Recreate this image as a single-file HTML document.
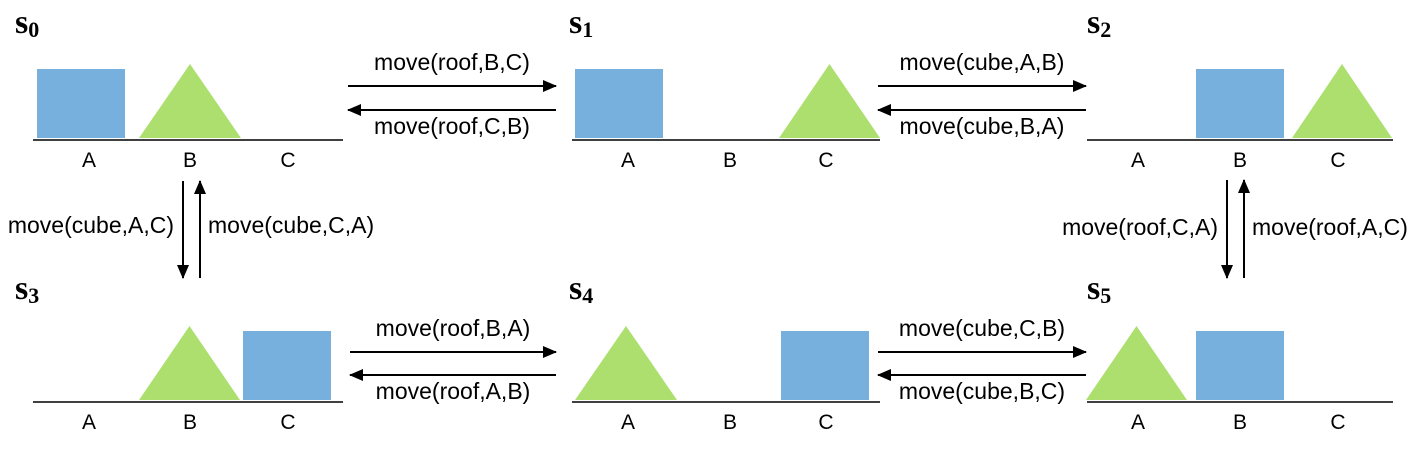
<!DOCTYPE html>
<html><head><meta charset="utf-8"><style>
html,body{margin:0;padding:0;background:#fff;}
svg text{font-family:"Liberation Sans",sans-serif;}
.lab{font-size:23px;fill:#000;}
.abc{font-size:21px;fill:#000;text-anchor:middle;}
svg text.st{font-family:"Liberation Serif",serif;font-size:34px;font-weight:bold;}
</style></head><body>
<svg width="1424" height="444" viewBox="0 0 1424 444" xmlns="http://www.w3.org/2000/svg">
<defs><marker id="ah" markerWidth="14" markerHeight="12" refX="13" refY="6" orient="auto" markerUnits="userSpaceOnUse"><path d="M0,0 L14,6 L0,12 z" fill="#000"/></marker></defs>
<g id="states"></g>
<g id="arrows"></g>
</svg>
<script>
const NS='http://www.w3.org/2000/svg';
const svg=document.querySelector('svg');
const stG=document.getElementById('states');
const arG=document.getElementById('arrows');
function mk(t,a,p){const e=document.createElementNS(NS,t);for(const k in a)e.setAttribute(k,a[k]);(p||svg).appendChild(e);return e;}
const states=[
 {n:'0',lx:15,ly:33,x0:33,x1:343,gy:140,cx:[89,190,288],cube:[37,125],roof:[139,241]},
 {n:'1',lx:569,ly:33,x0:572,x1:880,gy:140,cx:[628,730,826],cube:[575,663],roof:[779,880]},
 {n:'2',lx:1087,ly:33,x0:1087,x1:1393,gy:140,cx:[1138,1240,1338],cube:[1196,1284],roof:[1292,1392]},
 {n:'3',lx:15,ly:299,x0:33,x1:343,gy:402,cx:[89,190,288],cube:[243,331],roof:[139,240]},
 {n:'4',lx:569,ly:299,x0:572,x1:880,gy:402,cx:[628,730,826],cube:[781,869],roof:[575,677]},
 {n:'5',lx:1087,ly:299,x0:1087,x1:1393,gy:402,cx:[1138,1240,1338],cube:[1196,1284],roof:[1086,1187]}
];
states.forEach(s=>{
 const g=mk('g',{},stG);
 
 
 const t=mk('text',{x:s.lx,y:s.ly,class:'st'},g);
 t.innerHTML='s<tspan style="font-size:22px" dy="4">'+s.n+'</tspan>';
 
 
 const c=mk('rect',{x:s.cube[0],y:s.gy-71,width:s.cube[1]-s.cube[0],height:69,fill:'#77b0dc'},g);
 
 
 const m=(s.roof[0]+s.roof[1])/2;
 const r=mk('polygon',{points:`${s.roof[0]},${s.gy-2} ${m},${s.gy-76} ${s.roof[1]},${s.gy-2}`,fill:'#acdf6e'},g);
 
 
 const l=mk('line',{x1:s.x0,y1:s.gy,x2:s.x1,y2:s.gy,stroke:'#000','stroke-width':1.5},g);
 
 
 ['A','B','C'].forEach((p,i)=>{
  const tt=mk('text',{x:s.cx[i],y:s.gy+27,class:'abc'},g);tt.textContent=p;
  
  
 });
});
const hpairs=[
 {x0:348,x1:556,y:86,y2:110,top:'move(roof,B,C)',bot:'move(roof,C,B)'},
 {x0:878,x1:1086,y:86,y2:110,top:'move(cube,A,B)',bot:'move(cube,B,A)'},
 {x0:350,x1:556,y:352,y2:375,top:'move(roof,B,A)',bot:'move(roof,A,B)'},
 {x0:878,x1:1086,y:352,y2:375,top:'move(cube,C,B)',bot:'move(cube,B,C)'}
];
hpairs.forEach(h=>{
 const cx=(h.x0+h.x1)/2;
 let a=mk('line',{x1:h.x0,y1:h.y,x2:h.x1,y2:h.y,stroke:'#000','stroke-width':2,'marker-end':'url(#ah)'},arG);
 
 a=mk('line',{x1:h.x1,y1:h.y2,x2:h.x0,y2:h.y2,stroke:'#000','stroke-width':2,'marker-end':'url(#ah)'},arG);
 
 let t=mk('text',{x:cx,y:h.y-16,class:'lab','text-anchor':'middle'},arG);t.textContent=h.top;
 
 t=mk('text',{x:cx,y:h.y2+24,class:'lab','text-anchor':'middle'},arG);t.textContent=h.bot;
 
});
const vpairs=[
 {xd:183,xu:200,y0:181,y1:278,left:'move(cube,A,C)',right:'move(cube,C,A)',ly:233},
 {xd:1227,xu:1244,y0:180,y1:278,left:'move(roof,C,A)',right:'move(roof,A,C)',ly:235}
];
vpairs.forEach(v=>{
 let a=mk('line',{x1:v.xd,y1:v.y0,x2:v.xd,y2:v.y1,stroke:'#000','stroke-width':2,'marker-end':'url(#ah)'},arG);
 
 a=mk('line',{x1:v.xu,y1:v.y1,x2:v.xu,y2:v.y0,stroke:'#000','stroke-width':2,'marker-end':'url(#ah)'},arG);
 
 let t=mk('text',{x:v.xd-9,y:v.ly,class:'lab','text-anchor':'end'},arG);t.textContent=v.left;
 
 t=mk('text',{x:v.xu+8,y:v.ly,class:'lab'},arG);t.textContent=v.right;
 
});
</script>
</body></html>
